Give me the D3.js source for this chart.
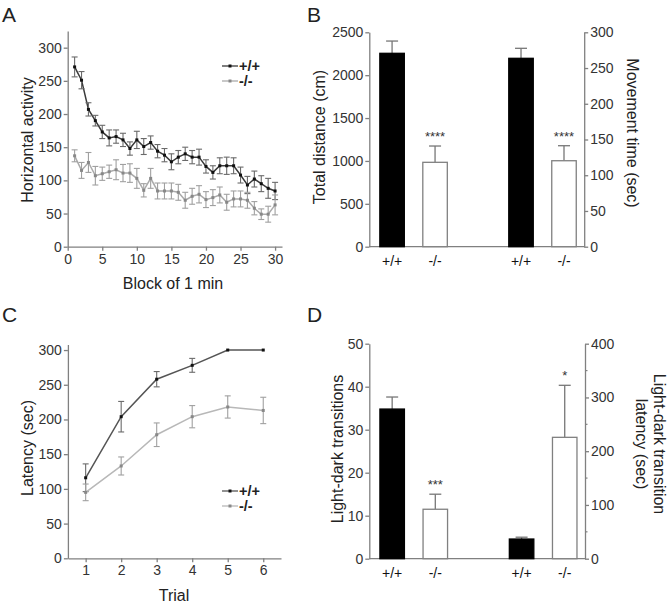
<!DOCTYPE html>
<html>
<head>
<meta charset="utf-8">
<script src="https://cdn.jsdelivr.net/npm/d3@7"></script>
<style>
  body { margin: 0; background: #fff; }
  svg { font-family: "Liberation Sans", Arial, sans-serif; }
</style>
</head>
<body>
<div id="chart"></div>
<script>

// Panel A: horizontal activity per 1-min block
var blocks = d3.range(1, 31);
var wtActivity = [271,251,207,190,173,164,166,161,148,161,151,157,144,138,128,135,140,135,135,121,112,122,122,122,108,93,102,95,88,84];
var wtActivityErr = [15,13,10,8,10,12,10,10,10,13,12,10,10,10,12,10,10,10,12,10,10,12,13,12,12,13,12,12,15,13];
var koActivity = [137,115,127,107,110,113,116,111,111,103,85,103,84,84,84,82,70,76,79,71,74,78,67,72,72,70,58,49,49,63];
var koActivityErr = [9,12,15,14,10,10,15,13,14,15,10,15,12,12,12,12,12,12,13,12,12,12,12,12,12,12,10,8,12,15];

// Panel B: total distance / movement time
var genotypes = ["+/+", "-/-", "+/+", "-/-"];
var distanceVals = [2255, 984];
var distanceErr = [143, 190];
var moveTimeVals = [263.6, 120.3];
var moveTimeErr = [14, 21];
var bStars = ["", "****", "", "****"];

// Panel C: latency per trial
var trials = [1, 2, 3, 4, 5, 6];
var wtLatency = [116, 204, 258, 278, 300, 300];
var wtLatencyErr = [20, 22, 11, 10, 0, 0];
var koLatency = [95, 133, 178, 204, 218, 213];
var koLatencyErr = [12, 13, 17, 16, 16, 19];

// Panel D: light-dark transitions / latency
var transitionVals = [34.8, 11.5];
var transitionErr = [2.8, 3.5];
var ldLatencyVals = [36.6, 225.8];
var ldLatencyErr = [3.4, 96.8];
var dStars = ["", "***", "", "*"];

var svg = d3.select("#chart")
    .append("svg")
    .attr("width", 672)
    .attr("height", 608);

var axisColor = "#808080";
var textColor = "#333";
var fmt = d3.format("d");

function styleAxis(g) {
    g.selectAll("path").attr("stroke", axisColor).attr("stroke-width", 1.3);
    g.selectAll("line").attr("stroke", axisColor).attr("stroke-width", 1.3);
    g.selectAll("text").attr("fill", textColor).attr("font-size", "14px")
        .attr("font-family", "Liberation Sans, Arial, sans-serif");
}

function panelLetter(t, x, y) {
    svg.append("text")
        .attr("x", x).attr("y", y)
        .attr("font-size", "21px")
        .attr("fill", "#222")
        .text(t);
}

function axisTitle(t, x, y, rot) {
    svg.append("text")
        .attr("transform", "translate(" + x + "," + y + ") rotate(" + rot + ")")
        .attr("text-anchor", "middle")
        .attr("dominant-baseline", "central")
        .attr("font-size", "16px")
        .attr("fill", "#222")
        .text(t);
}

// ---------- line panels (A, C) ----------
function linePanel(opts) {
    var x = opts.x, y = opts.y;

    var gx = svg.append("g")
        .attr("transform", "translate(0," + y.range()[0] + ")")
        .call(d3.axisBottom(x).tickValues(opts.xticks).tickFormat(fmt).tickSize(4).tickPadding(3).tickSizeOuter(0));
    styleAxis(gx);

    var gy = svg.append("g")
        .attr("transform", "translate(" + x.range()[0] + ",0)")
        .call(d3.axisLeft(y).tickValues(opts.yticks).tickFormat(fmt).tickSize(4).tickPadding(2).tickSizeOuter(0));
    styleAxis(gy);

    opts.series.forEach(function(s) {
        var pts = opts.xs.map(function(v, i) { return { x: v, y: s.vals[i], e: s.err[i] }; });

        var line = d3.line()
            .x(function(d) { return x(d.x); })
            .y(function(d) { return y(d.y); });

        svg.append("path")
            .datum(pts)
            .attr("fill", "none")
            .attr("stroke", s.color)
            .attr("stroke-width", 1.5)
            .attr("d", line);

        var eb = svg.append("g").selectAll("g")
            .data(pts.filter(function(d) { return d.e > 0; }))
            .enter().append("g");
        eb.append("line")
            .attr("x1", function(d) { return x(d.x); })
            .attr("x2", function(d) { return x(d.x); })
            .attr("y1", function(d) { return y(d.y - d.e); })
            .attr("y2", function(d) { return y(d.y + d.e); })
            .attr("stroke", s.errColor).attr("stroke-width", 1.1);
        [-1, 1].forEach(function(sg) {
            eb.append("line")
                .attr("x1", function(d) { return x(d.x) - 3; })
                .attr("x2", function(d) { return x(d.x) + 3; })
                .attr("y1", function(d) { return y(d.y + sg * d.e); })
                .attr("y2", function(d) { return y(d.y + sg * d.e); })
                .attr("stroke", s.errColor).attr("stroke-width", 1.1);
        });

        svg.append("g").selectAll("rect")
            .data(pts)
            .enter().append("rect")
            .attr("x", function(d) { return x(d.x) - 1.5; })
            .attr("y", function(d) { return y(d.y) - 1.5; })
            .attr("width", 3).attr("height", 3)
            .attr("fill", s.marker);
    });

    // legend
    opts.series.forEach(function(s, i) {
        var ly = opts.legendY + i * 15;
        svg.append("line")
            .attr("x1", 222).attr("x2", 238)
            .attr("y1", ly).attr("y2", ly)
            .attr("stroke", s.color).attr("stroke-width", 1.3);
        svg.append("rect")
            .attr("x", 228.5).attr("y", ly - 1.5)
            .attr("width", 3).attr("height", 3)
            .attr("fill", s.marker);
        svg.append("text")
            .attr("x", 239).attr("y", ly + 5)
            .attr("font-size", "14.5px")
            .attr("font-weight", "bold")
            .attr("fill", "#222")
            .text(s.name);
    });
}

// Panel A
panelLetter("A", 2, 22);
linePanel({
    x: d3.scaleLinear().domain([0, 31]).range([67.7, 282]),
    y: d3.scaleLinear().domain([0, 325]).range([246.7, 31.1]),
    xticks: [0, 5, 10, 15, 20, 25, 30],
    yticks: [0, 50, 100, 150, 200, 250, 300],
    xs: blocks,
    legendY: 66,
    series: [
        { name: "+/+", vals: wtActivity, err: wtActivityErr, color: "#3a3a3a", errColor: "#6a6a6a", marker: "#111" },
        { name: "-/-", vals: koActivity, err: koActivityErr, color: "#ababab", errColor: "#a0a0a0", marker: "#888" }
    ]
});
axisTitle("Horizontal activity", 27, 140, -90);
svg.append("text")
    .attr("x", 173).attr("y", 289)
    .attr("text-anchor", "middle")
    .attr("font-size", "16px")
    .attr("fill", "#222")
    .text("Block of 1 min");

// Panel C
panelLetter("C", 2, 322);
linePanel({
    x: d3.scaleLinear().domain([0.5, 6.5]).range([67.9, 281]),
    y: d3.scaleLinear().domain([0, 308]).range([558.3, 344.5]),
    xticks: trials,
    yticks: [0, 50, 100, 150, 200, 250, 300],
    xs: trials,
    legendY: 491,
    series: [
        { name: "+/+", vals: wtLatency, err: wtLatencyErr, color: "#555", errColor: "#6a6a6a", marker: "#111" },
        { name: "-/-", vals: koLatency, err: koLatencyErr, color: "#b8b8b8", errColor: "#a0a0a0", marker: "#888" }
    ]
});
axisTitle("Latency (sec)", 27, 448, -90);
svg.append("text")
    .attr("x", 174).attr("y", 601)
    .attr("text-anchor", "middle")
    .attr("font-size", "16px")
    .attr("fill", "#222")
    .text("Trial");

// ---------- bar panels (B, D) ----------
function barPanel(opts) {
    var x = d3.scaleLinear().domain([-0.53, 4.47]).range([369.3, opts.right]);
    var slots = [0, 1, 3, 4];
    var yL = opts.yL, yR = opts.yR;
    var bw = 24.5;

    var gl = svg.append("g")
        .attr("transform", "translate(" + x.range()[0] + ",0)")
        .call(d3.axisLeft(yL).tickValues(opts.lticks).tickFormat(fmt).tickSize(4).tickPadding(2).tickSizeOuter(0));
    styleAxis(gl);

    var gr = svg.append("g")
        .attr("transform", "translate(" + x.range()[1] + ",0)")
        .call(d3.axisRight(yR).tickValues(opts.rticks).tickFormat(fmt).tickSize(4).tickPadding(2).tickSizeOuter(0));
    styleAxis(gr);
    if (opts.rminor) {
        gr.selectAll(".minor")
            .data(opts.rminor)
            .enter().append("line")
            .attr("x1", 0).attr("x2", 2.5)
            .attr("y1", function(d) { return yR(d); })
            .attr("y2", function(d) { return yR(d); })
            .attr("stroke", axisColor).attr("stroke-width", 1.2);
    }

    svg.append("line")
        .attr("x1", x.range()[0]).attr("x2", x.range()[1])
        .attr("y1", yL(0)).attr("y2", yL(0))
        .attr("stroke", axisColor).attr("stroke-width", 1.3);

    var bars = [
        { v: opts.leftVals[0], e: opts.leftErr[0], y: yL, fill: "#000" },
        { v: opts.leftVals[1], e: opts.leftErr[1], y: yL, fill: "#fff" },
        { v: opts.rightVals[0], e: opts.rightErr[0], y: yR, fill: "#000" },
        { v: opts.rightVals[1], e: opts.rightErr[1], y: yR, fill: "#fff" }
    ];
    bars.forEach(function(b, i) { b.slot = slots[i]; b.label = genotypes[i]; b.star = opts.stars[i]; });

    var g = svg.append("g");
    // error bars (upper only)
    g.selectAll(".ev").data(bars).enter().append("line")
        .attr("x1", function(d) { return x(d.slot); })
        .attr("x2", function(d) { return x(d.slot); })
        .attr("y1", function(d) { return d.y(d.v); })
        .attr("y2", function(d) { return d.y(d.v + d.e); })
        .attr("stroke", "#777").attr("stroke-width", 1.3);
    g.selectAll(".ec").data(bars).enter().append("line")
        .attr("x1", function(d) { return x(d.slot) - 6; })
        .attr("x2", function(d) { return x(d.slot) + 6; })
        .attr("y1", function(d) { return d.y(d.v + d.e); })
        .attr("y2", function(d) { return d.y(d.v + d.e); })
        .attr("stroke", "#777").attr("stroke-width", 1.3);

    g.selectAll("rect").data(bars).enter().append("rect")
        .attr("x", function(d) { return x(d.slot) - bw / 2; })
        .attr("width", bw)
        .attr("y", function(d) { return d.y(d.v); })
        .attr("height", function(d) { return d.y(0) - d.y(d.v); })
        .attr("fill", function(d) { return d.fill; })
        .attr("stroke", function(d) { return d.fill === "#000" ? "#000" : "#808080"; })
        .attr("stroke-width", 1.3);

    g.selectAll(".star").data(bars).enter().append("text")
        .attr("x", function(d) { return x(d.slot); })
        .attr("y", function(d) { return d.y(d.v + d.e) - 5; })
        .attr("text-anchor", "middle")
        .attr("font-size", "13px")
        .attr("fill", "#333")
        .text(function(d) { return d.star; });

    g.selectAll(".lab").data(bars).enter().append("text")
        .attr("x", function(d) { return x(d.slot); })
        .attr("y", yL(0) + 19)
        .attr("text-anchor", "middle")
        .attr("font-size", "14px")
        .attr("fill", "#111")
        .text(function(d) { return d.label; });
}

// Panel B
panelLetter("B", 307, 22);
barPanel({
    right: 584.2,
    yL: d3.scaleLinear().domain([0, 2500]).range([246.7, 32.3]),
    yR: d3.scaleLinear().domain([0, 300]).range([246.7, 32.3]),
    lticks: [0, 500, 1000, 1500, 2000, 2500],
    rticks: [0, 50, 100, 150, 200, 250, 300],
    leftVals: distanceVals, leftErr: distanceErr,
    rightVals: moveTimeVals, rightErr: moveTimeErr,
    stars: bStars
});
axisTitle("Total distance (cm)", 319, 137, -90);
axisTitle("Movement time (sec)", 632, 133, 90);

// Panel D
panelLetter("D", 307, 322);
barPanel({
    right: 585,
    yL: d3.scaleLinear().domain([0, 50]).range([558.7, 343.7]),
    yR: d3.scaleLinear().domain([0, 400]).range([558.7, 343.7]),
    lticks: [0, 10, 20, 30, 40, 50],
    rticks: [0, 100, 200, 300, 400],
    rminor: [50, 150, 250, 350],
    leftVals: transitionVals, leftErr: transitionErr,
    rightVals: ldLatencyVals, rightErr: ldLatencyErr,
    stars: dStars
});
axisTitle("Light-dark transitions", 337, 449, -90);
svg.append("text")
    .attr("transform", "translate(651,444) rotate(90)")
    .attr("text-anchor", "middle")
    .attr("font-size", "16px")
    .attr("fill", "#222")
    .selectAll("tspan")
    .data(["Light-dark transition", "latency (sec)"])
    .enter().append("tspan")
    .attr("x", 0)
    .attr("dy", function(d, i) { return i === 0 ? -3 : 18.5; })
    .text(function(d) { return d; });

</script>
</body>
</html>
